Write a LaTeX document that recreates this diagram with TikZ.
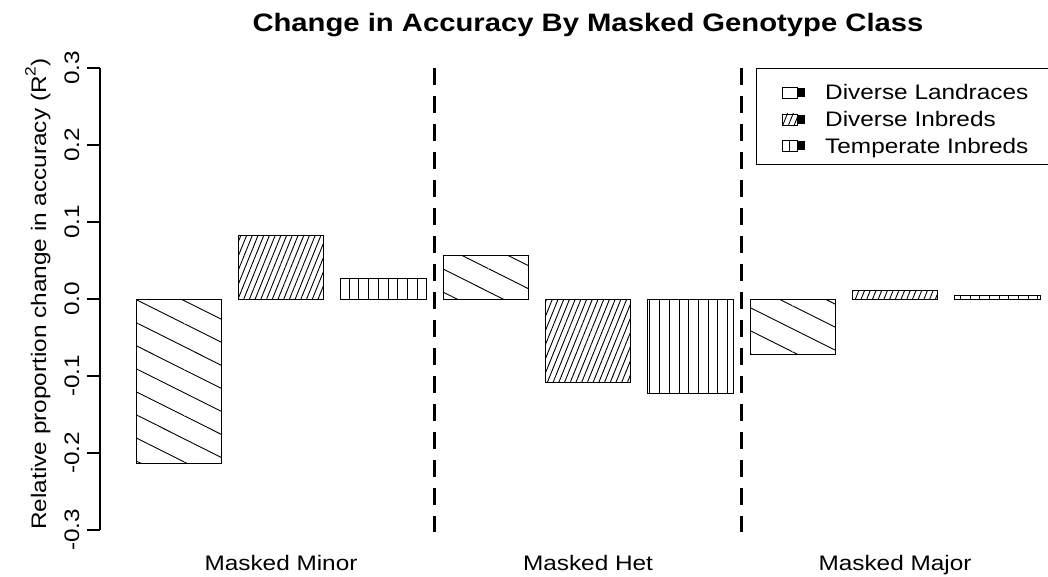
\documentclass[tikz,border=0pt]{standalone}
\usepackage{fontspec}
\setmainfont{Liberation Sans}[FakeStretch=1.16]
\usetikzlibrary{patterns.meta}
\begin{document}
\begin{tikzpicture}[x=1pt,y=-1pt,
  barbox/.style={draw=black, line width=0.9pt},
  dlfill/.style={pattern={Lines[angle=-26.6,distance=20.6pt,line width=0.9pt]}},
  difill/.style={pattern={Lines[angle=68,distance=5.3pt,line width=0.9pt]}},
  tifill/.style={pattern={Lines[angle=90,distance=9.7pt,line width=0.9pt]}},
  axisline/.style={line width=2.6pt},
  sepline/.style={line width=2.8pt, dash pattern=on 17pt off 11pt},
  lab/.style={font=\fontsize{21}{21}\selectfont, inner sep=0pt},
  ticklab/.style={font=\fontsize{21}{21}\selectfont, inner sep=0pt, rotate=90, anchor=base},
  ttl/.style={font=\fontsize{25.2}{25.2}\selectfont\bfseries, inner sep=0pt, anchor=base},
 ]
\useasboundingbox (0,0) rectangle (1048,577);
\clip (0,0) rectangle (1048,577);
\fill[white] (0,0) rectangle (1048,577);

% title
\node[ttl] (title) at (588,32) {Change in Accuracy By Masked Genotype Class};

% bars
\draw[barbox, dlfill] (136,299) rectangle (221.3,463);
\draw[barbox, difill] (238.4,299) rectangle (323.7,235);
\draw[barbox, tifill] (340.7,299) rectangle (426,278.2);
\draw[barbox, dlfill] (443.1,299) rectangle (528.4,255.9);
\draw[barbox, difill] (545.5,299) rectangle (630.8,382.9);
\draw[barbox, tifill] (647.8,299) rectangle (733.1,393.7);
\draw[barbox, dlfill] (750.2,299) rectangle (835.5,354.4);
\draw[barbox, difill] (852.6,299) rectangle (937.9,290.5);
\draw[barbox, tifill] (954.9,299) rectangle (1040.2,295.9);

% separators
\coordinate (s1t) at (434.5,68); \coordinate (s1b) at (434.5,532);
\coordinate (s2t) at (741.6,68); \coordinate (s2b) at (741.6,532);
\draw[sepline] (s1t) -- (s1b);
\draw[sepline] (s2t) -- (s2b);

% y axis
\coordinate (ya) at (100,68); \coordinate (yb) at (100,530);
\draw[axisline] (ya) -- (yb);
\foreach \v/\t [count=\i] in {0.3/0.3,0.2/0.2,0.1/0.1,0.0/0.0,-0.1/-0.1,-0.2/-0.2,-0.3/-0.3}{
  \pgfmathsetmacro{\yy}{299-770*\v}
  \draw[axisline] (87,\yy) -- (100,\yy);
  \node[ticklab] (tick\i) at (79,\yy) {\t};
}
\node[lab, rotate=90, anchor=base] (ylab) at (46,294)
  {Relative proportion change in accuracy (R\raisebox{0.5em}{\fontsize{15}{15}\selectfont 2})};

% x labels
\node[lab, anchor=base] (g1) at (281,570) {Masked Minor};
\node[lab, anchor=base] (g2) at (588,570) {Masked Het};
\node[lab, anchor=base] (g3) at (895,570) {Masked Major};

% legend
\draw[line width=0.9pt] (756,68) rectangle (1060,164);
\draw[barbox] (782,87.5) rectangle (797,98.5);
\fill (797,88.5) rectangle (805,97.5);
\draw[barbox, difill] (782,114) rectangle (797,125);
\fill (797,115) rectangle (805,124);
\draw[barbox] (782,140.5) rectangle (797,151.5);
\draw[line width=0.9pt] (789.5,140.5) -- (789.5,151.5);
\fill (797,141.5) rectangle (805,150.5);
\node[lab, anchor=base west] (l1) at (825,100) {Diverse Landraces};
\node[lab, anchor=base west] (l2) at (825,127) {Diverse Inbreds};
\node[lab, anchor=base west] (l3) at (825,154) {Temperate Inbreds};
\end{tikzpicture}
\end{document}
